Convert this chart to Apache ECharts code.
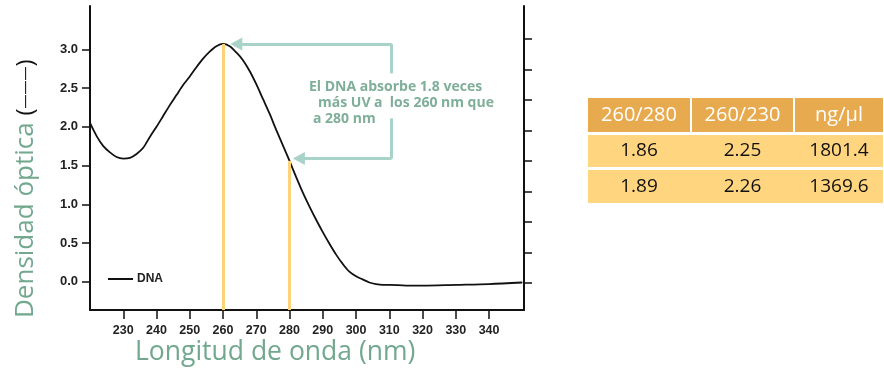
<!DOCTYPE html>
<html>
<head>
<meta charset="utf-8">
<script src="https://cdn.jsdelivr.net/npm/echarts@6/dist/echarts.min.js"></script>
<style>
html,body{margin:0;padding:0;background:#fff;}
#chart{width:884px;height:372px;}
</style>
</head>
<body>
<div id="chart"></div>
<script>
// ---- data ----
const wavelength = [220,222,224,226,228,230,232,234,236,238,240,242,244,246,248,250,252,254,256,258,260,262,264,266,268,270,272,274,276,278,280,282,284,286,288,290,292,294,296,298,300,302,304,306,308,310,315,320,330,340,350];
const absorbance = [2.05,1.88,1.75,1.67,1.61,1.59,1.60,1.65,1.73,1.87,2.00,2.14,2.28,2.41,2.54,2.65,2.77,2.88,2.97,3.04,3.07,3.04,2.96,2.86,2.72,2.55,2.36,2.17,1.96,1.76,1.56,1.35,1.15,0.97,0.80,0.64,0.49,0.35,0.23,0.13,0.07,0.03,-0.01,-0.03,-0.04,-0.04,-0.05,-0.05,-0.04,-0.03,-0.01];
const markWavelengths = [260, 280];
const markValues = [3.07, 1.56];
const xTickValues = [230,240,250,260,270,280,290,300,310,320,330,340];
const yTickValues = [0,0.5,1.0,1.5,2.0,2.5,3.0];
const rightTickValues = [0,1,2,3,4,5,6,7,8];
const annotationLines = ['El DNA absorbe 1.8 veces', 'más UV a  los 260 nm que', 'a 280 nm'];
const tableHeader = ['260/280','260/230','ng/μl'];
const tableRows = [['1.86','2.25','1801.4'],['1.89','2.26','1369.6']];

const X_MIN = 220, X_MAX = 350.5, Y_MIN = -0.365, Y_MAX = 3.56;
const GREEN = '#72a88e', LIGHTGREEN = '#a9d3c9', YELLOW = '#ffd27a';

const chart = echarts.init(document.getElementById('chart'));

const seriesData = wavelength.map((w, i) => [w, absorbance[i]]);

// bracket annotation (data coordinates)
const bx = 310.7;
const bracket = [
  [{coord:[bx, 3.07], symbol:'none'}, {coord:[264.0, 3.07], symbol:'triangle', symbolSize:[13,12]}],
  [{coord:[bx, 3.07], symbol:'none'}, {coord:[bx, 2.69], symbol:'none'}],
  [{coord:[bx, 2.11], symbol:'none'}, {coord:[bx, 1.59], symbol:'none'}],
  [{coord:[bx, 1.59], symbol:'none'}, {coord:[282.8, 1.59], symbol:'triangle', symbolSize:[13,12]}]
];

const yellowLines = markWavelengths.map((w, i) => [
  {coord:[w, Y_MIN], symbol:'none'}, {coord:[w, markValues[i]], symbol:'none'}
]);

// graphics: annotation text, axis titles, table
const graphics = [];
const annLefts = [309, 318, 313];
const annMids = [86.7, 103, 119];
annotationLines.forEach((t, i) => {
  graphics.push({type:'text', x: annLefts[i], y: annMids[i], silent:true,
    style:{text:t, fill:'#7fae99', font:'bold 14px "Open Sans"', textAlign:'left', textVerticalAlign:'middle'}});
});
graphics.push({type:'text', left:135, top:339, silent:true,
  style:{text:'Longitud de onda (nm)', fill:GREEN, font:'26.5px "Open Sans"'}});
graphics.push({type:'text', x:26, y:318, rotation:Math.PI/2, silent:true,
  style:{text:'{g|Densidad óptica }{k|(}{d|———}{k|)}', textAlign:'left', textVerticalAlign:'middle',
    rich:{
      g:{fill:GREEN, font:'26px "Open Sans"'},
      k:{fill:'#111', font:'24px "Open Sans"'},
      d:{fill:'#111', font:'14px "Open Sans"'}
    }}});

// table
const colX = [588, 692, 795];
const colW = [102, 101, 88];
const headerY = 98, headerH = 34;
const rowY = [135, 170], rowH = [32, 33];
tableHeader.forEach((h, c) => {
  graphics.push({type:'rect', shape:{x:colX[c], y:headerY, width:colW[c], height:headerH}, style:{fill:'#e8aa4e'}, silent:true});
  graphics.push({type:'text', x:colX[c]+colW[c]/2, y:headerY+headerH/2, silent:true,
    style:{text:h, fill:'#fff', font:'20px "Open Sans"', textAlign:'center', textVerticalAlign:'middle'}});
});
tableRows.forEach((row, r) => {
  graphics.push({type:'rect', shape:{x:colX[0], y:rowY[r], width:colX[2]+colW[2]-colX[0], height:rowH[r]}, style:{fill:'#ffd580'}, silent:true});
  row.forEach((v, c) => {
    graphics.push({type:'text', x:colX[c]+colW[c]/2, y:rowY[r]+rowH[r]/2, silent:true,
      style:{text:v, fill:'#111', font:'19px "Open Sans"', textAlign:'center', textVerticalAlign:'middle'}});
  });
});

const option = {
  animation:false,
  grid:{left:90, right:360, top:6, bottom:62, containLabel:false},
  legend:{left:103, top:268, itemWidth:25, itemHeight:2, itemGap:4,
    data:[{name:'DNA', icon:'rect'}],
    textStyle:{fontFamily:'"Liberation Sans"', fontWeight:'bold', fontSize:12, color:'#222', padding:[0,0,0,-1]}},
  xAxis:{type:'value', min:X_MIN, max:X_MAX,
    axisLine:{show:true, onZero:false, lineStyle:{color:'#111', width:2}},
    axisTick:{show:true, customValues:xTickValues, length:9, lineStyle:{color:'#111', width:1.5}},
    axisLabel:{customValues:xTickValues, margin:14, fontFamily:'"Liberation Sans"', fontWeight:'bold', fontSize:12.5, color:'#222'},
    splitLine:{show:false}},
  yAxis:[{type:'value', min:Y_MIN, max:Y_MAX,
    axisLine:{show:true, onZero:false, lineStyle:{color:'#111', width:2}},
    axisTick:{show:true, customValues:yTickValues, length:8, lineStyle:{color:'#111', width:1.5}},
    axisLabel:{customValues:yTickValues, margin:12, formatter:v=>v.toFixed(1), fontFamily:'"Liberation Sans"', fontWeight:'bold', fontSize:13, color:'#222'},
    splitLine:{show:false}},
   {type:'value', position:'right', min:-0.885, max:9.08,
    axisLine:{show:true, onZero:false, lineStyle:{color:'#111', width:2}},
    axisTick:{show:true, customValues:rightTickValues, length:8, lineStyle:{color:'#111', width:1.5}},
    axisLabel:{show:false}, splitLine:{show:false}}],
  series:[
    {name:'marks', type:'line', data:[], z:1, silent:true,
      markLine:{silent:true, symbol:'none', label:{show:false}, animation:false,
        lineStyle:{color:YELLOW, width:3, type:'solid'}, data:yellowLines}},
    {name:'DNA', type:'line', data:seriesData, smooth:0.3, symbol:'none', z:3,
      lineStyle:{color:'#111', width:1.8}, itemStyle:{color:'#111'}},
    {name:'bracket', type:'line', data:[], z:4, silent:true,
      markLine:{silent:true, label:{show:false}, animation:false,
        lineStyle:{color:LIGHTGREEN, width:3, type:'solid'}, itemStyle:{color:LIGHTGREEN}, data:bracket}}
  ],
  graphic:graphics
};
chart.setOption(option);
</script>
</body>
</html>
